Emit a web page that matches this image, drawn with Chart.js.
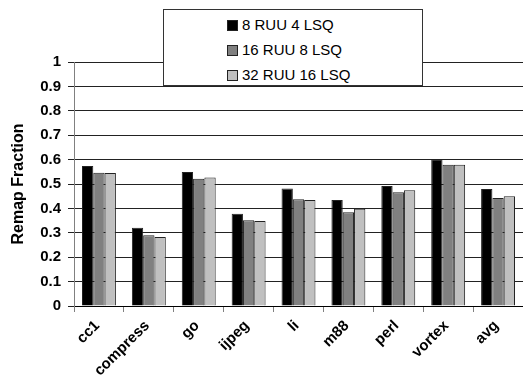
<!DOCTYPE html>
<html>
<head>
<meta charset="utf-8">
<script src="https://cdn.jsdelivr.net/npm/chart.js@4/dist/chart.umd.min.js"></script>
<style>
  body { margin: 0; background: #fff; }
  #wrap { position: relative; width: 523px; height: 389px; }
  #legend {
    position: absolute; left: 163px; top: 9px; width: 258px; height: 75px;
    background: #fff; border: 1px solid #333;
    font: 15px 'Liberation Sans', Arial, sans-serif; color: #000;
  }
  .item { position: absolute; left: 63px; height: 16px; line-height: 16px; white-space: nowrap; }
  .sw { display: inline-block; width: 9px; height: 9px; border: 1px solid #222; margin-right: 4px; vertical-align: -1px; }
</style>
</head>
<body>
<div id="wrap">
  <canvas id="myChart" width="523" height="389"></canvas>
  <div id="legend"></div>
</div>
<script>
const benchmarks = ['cc1', 'compress', 'go', 'ijpeg', 'li', 'm88', 'perl', 'vortex', 'avg'];
const seriesNames = ['8 RUU 4 LSQ', '16 RUU 8 LSQ', '32 RUU 16 LSQ'];
const ruu8 = [0.574, 0.321, 0.549, 0.378, 0.482, 0.434, 0.492, 0.601, 0.480];
const ruu16 = [0.546, 0.290, 0.522, 0.351, 0.437, 0.384, 0.466, 0.579, 0.443];
const ruu32 = [0.545, 0.283, 0.527, 0.348, 0.434, 0.399, 0.474, 0.579, 0.450];
const yTicks = [0, 0.1, 0.2, 0.3, 0.4, 0.5, 0.6, 0.7, 0.8, 0.9, 1];

const colors = ['#000000', '#808080', '#c0c0c0'];
const allSeries = [ruu8, ruu16, ruu32];

// legend box
const legendBox = document.getElementById('legend');
seriesNames.forEach((name, i) => {
    const row = document.createElement('div');
    row.className = 'item';
    row.style.top = (7 + i * 25) + 'px';
    row.innerHTML = '<span class="sw" style="background:' + colors[i] + '"></span>' + name;
    legendBox.append(row);
});

// rotated category labels, placed from the x scale's own tick pixels
// (the built-in rotation would not kick in with this config)
const slantedLabels = {
    id: 'slantedLabels',
    afterDraw(chart) {
        const scale = chart.scales.x;
        const c = chart.ctx;
        c.save();
        c.font = "bold 15px 'Liberation Sans', Arial, sans-serif";
        c.fillStyle = '#000';
        c.textAlign = 'right';
        c.textBaseline = 'top';
        chart.data.labels.forEach((label, i) => {
            c.save();
            c.translate(scale.getPixelForTick(i) - 7, scale.top + 12);
            c.rotate(-Math.PI / 4);
            c.fillText(label, 0, 0);
            c.restore();
        });
        c.restore();
    }
};

var ctx = document.getElementById('myChart').getContext('2d');
var chart = new Chart(ctx, {
    type: 'bar',
    data: {
        labels: benchmarks,
        datasets: seriesNames.map((name, i) => ({
            label: name,
            data: allSeries[i],
            backgroundColor: colors[i],
            borderColor: '#222',
            borderWidth: 1,
            categoryPercentage: 0.68,
            barPercentage: 1
        }))
    },
    plugins: [slantedLabels],
    options: {
        responsive: false,
        animation: false,
        layout: { padding: { top: 62, right: 0, left: 0, bottom: 0 } },
        plugins: { legend: { display: false }, tooltip: { enabled: false } },
        scales: {
            x: {
                afterFit: (scale) => { scale.height = 83; },
                grid: { drawOnChartArea: false, drawTicks: true, tickLength: 6, color: '#808080', offset: true },
                border: { color: '#000' },
                ticks: { display: false }
            },
            y: {
                min: 0,
                max: 1,
                afterFit: (scale) => { scale.width = 74; },
                afterBuildTicks: (scale) => { scale.ticks = yTicks.map(v => ({ value: v })); },
                grid: { color: '#222', tickLength: 6 },
                border: { color: '#808080' },
                ticks: {
                    font: { family: "'Liberation Sans', Arial, sans-serif", size: 15, weight: 'bold' },
                    color: '#000',
                    padding: 7,
                    callback: (v) => String(Number(v.toFixed(1)))
                },
                title: {
                    display: true,
                    text: 'Remap Fraction',
                    font: { family: "'Liberation Sans', Arial, sans-serif", size: 16, weight: 'bold' },
                    color: '#000',
                    padding: { top: 9, bottom: 0 }
                }
            }
        }
    }
});
</script>
</body>
</html>
